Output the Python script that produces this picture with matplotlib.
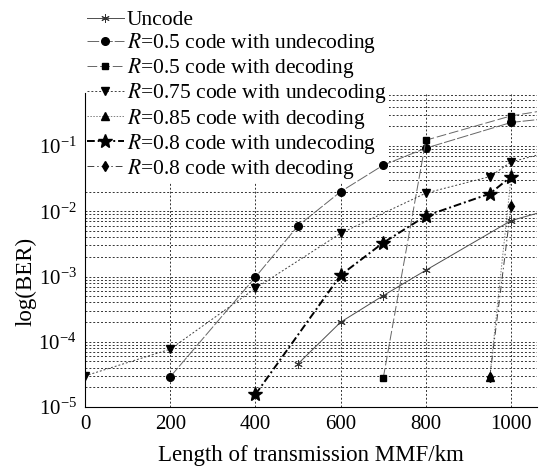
import numpy as np
import matplotlib
matplotlib.use('Agg')
import matplotlib.pyplot as plt

plt.rcParams['font.family'] = ['Liberation Serif', 'DejaVu Serif']
plt.rcParams['mathtext.fontset'] = 'stix'

# values (length in km, BER)
uncode_x = [500, 600, 700, 800, 1000, 1100]
uncode_y = [4.6e-5, 2.0e-4, 5.1e-4, 1.25e-3, 7.2e-3, 1.1e-2]

r05_und_x = [200, 400, 500, 600, 700, 800, 1000, 1100]
r05_und_y = [2.9e-5, 9.8e-4, 6.0e-3, 2.0e-2, 5.1e-2, 9.3e-2, 0.23, 0.27]

r05_dec_x = [700, 800, 1000, 1100]
r05_dec_y = [2.8e-5, 0.123, 0.29, 0.37]

r075_und_x = [0, 200, 400, 600, 800, 950, 1000, 1100]
r075_und_y = [3.0e-5, 7.7e-5, 6.6e-4, 4.6e-3, 1.9e-2, 3.4e-2, 5.7e-2, 8.5e-2]

r085_dec_x = [950, 1000]
r085_dec_y = [2.9e-5, 3.4e-2]

r08_und_x = [400, 600, 700, 800, 950, 1000]
r08_und_y = [1.56e-5, 1.05e-3, 3.3e-3, 8.5e-3, 1.86e-2, 3.4e-2]

r08_dec_x = [950, 1000]
r08_dec_y = [2.9e-5, 1.2e-2]

labels = ['Uncode',
          r'$R$=0.5 code with undecoding',
          r'$R$=0.5 code with decoding',
          r'$R$=0.75 code with undecoding',
          r'$R$=0.85 code with decoding',
          r'$R$=0.8 code with undecoding',
          r'$R$=0.8 code with decoding']

fig = plt.figure(figsize=(5.39, 4.66), dpi=100)
ax = fig.add_axes([0.1577, 0.1266, 0.838, 0.6738])

ax.plot(uncode_x, uncode_y, '-', color='0.3', lw=0.7,
        marker=(6, 2, 0), ms=6, mec='0.2', mew=0.7, label=labels[0])
ax.plot(r05_und_x, r05_und_y, color='0.4', lw=0.7, dashes=(12, 2),
        marker='o', ms=5.5, mfc='k', mec='k', label=labels[1])
ax.plot(r05_dec_x, r05_dec_y, color='0.4', lw=0.7, dashes=(10, 3),
        marker='s', ms=5, mfc='k', mec='k', label=labels[2])
ax.plot(r075_und_x, r075_und_y, color='0.25', lw=0.7, dashes=(2, 2),
        marker='v', ms=6, mfc='k', mec='k', label=labels[3])
ax.plot(r085_dec_x, r085_dec_y, color='0.5', lw=0.7, dashes=(1.5, 1.5),
        marker='^', ms=6, mfc='k', mec='k', label=labels[4])
ax.plot(r08_und_x, r08_und_y, color='k', lw=1.4, dashes=(4, 1.5, 1, 1.5),
        marker='*', ms=10, mfc='k', mec='k', label=labels[5])
ax.plot(r08_dec_x, r08_dec_y, color='0.25', lw=0.7, dashes=(7, 3, 1.5, 3),
        marker='d', ms=5.5, mfc='k', mec='k', label=labels[6])

ax.set_yscale('log')
ax.set_xlim(0, 1060)
ax.set_ylim(1e-5, 0.65)
ax.set_xticks([0, 200, 400, 600, 800, 1000])
ax.set_yticks([1e-5, 1e-4, 1e-3, 1e-2, 1e-1])

ax.grid(True, which='major', axis='x', color='0.2', ls=(0, (2, 2)), lw=0.7)
ax.grid(True, which='both', axis='y', color='0.2', ls=(0, (2, 2)), lw=0.7)

ax.spines['top'].set_visible(False)
ax.spines['right'].set_visible(False)
ax.tick_params(which='both', direction='in', length=0, labelsize=15, pad=6)

ax.set_xlabel('Length of transmission MMF/km', fontsize=16.5, labelpad=8)
ax.set_ylabel('log(BER)', fontsize=16.5)
ax.yaxis.set_label_coords(-0.107, 0.40)

leg = ax.legend(loc='upper left', bbox_to_anchor=(85 / 539., 1 - 8 / 466.),
                bbox_transform=fig.transFigure, fontsize=15.5,
                handlelength=1.7, handletextpad=0.15, labelspacing=0.05,
                borderpad=0.1, borderaxespad=0, frameon=True,
                facecolor='white', edgecolor='none', framealpha=1,
                fancybox=False)
leg.set_zorder(1.8)

plt.savefig('out.png', dpi=100)
